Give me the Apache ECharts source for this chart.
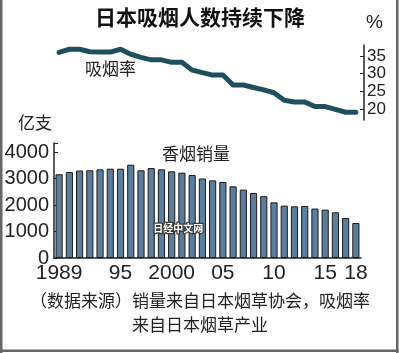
<!DOCTYPE html>
<html>
<head>
<meta charset="utf-8">
<script src="https://cdn.jsdelivr.net/npm/echarts@6/dist/echarts.min.js"></script>
<style>
  html, body { margin: 0; padding: 0; background: #fff; }
  #chart { width: 400px; height: 353px; }
</style>
</head>
<body>
<div id="chart"></div>
<script>
const years = ['1989', '1990', '1991', '1992', '1993', '1994', '1995', '1996', '1997', '1998',
  '1999', '2000', '2001', '2002', '2003', '2004', '2005', '2006', '2007', '2008',
  '2009', '2010', '2011', '2012', '2013', '2014', '2015', '2016', '2017', '2018']
// 吸烟率 (%)
const smokingRate = [36.0, 36.9, 36.9, 36.2, 36.1, 36.1, 36.9, 35.5, 34.6, 33.9,
  33.9, 33.2, 33.2, 31.0, 30.3, 29.6, 29.6, 26.8, 26.8, 26.1,
  25.4, 24.6, 22.5, 22.0, 22.0, 20.7, 20.7, 19.9, 19.1, 19.1]
// 香烟销量 (亿支)
const sales = [3160, 3245, 3300, 3310, 3345, 3370, 3370, 3520, 3310, 3395,
  3345, 3270, 3220, 3130, 3000, 2930, 2870, 2705, 2580, 2455,
  2330, 2100, 1975, 1950, 1965, 1865, 1825, 1725, 1510, 1320]
const xLabels = { '1989': '1989', '1995': '95', '2000': '2000', '2005': '05', '2010': '10', '2015': '15', '2018': '18' }
const rateTicks = [20, 25, 30, 35]

const chart = echarts.init(document.getElementById('chart'))
const narrow = '"Liberation Sans Narrow", "Liberation Sans", sans-serif'
const cjk = '"Noto Sans CJK SC", sans-serif'

chart.setOption({
  animation: false,
  backgroundColor: '#fff',
  grid: [
    { left: 54, right: 39, top: 45, height: 75 },
    { left: 54, right: 39, top: 143, height: 115 },
  ],
  xAxis: [
    {
      gridIndex: 0, type: 'category', data: years, show: false,
    },
    {
      gridIndex: 1, type: 'category', data: years,
      axisLine: { lineStyle: { color: '#222', width: 1.5 } },
      axisTick: { show: false },
      axisLabel: {
        interval: (i, v) => v in xLabels,
        formatter: (v) => xLabels[v] || '',
        color: '#222', fontFamily: narrow, fontSize: 21, margin: 5,
      },
    },
  ],
  yAxis: [
    {
      gridIndex: 0, type: 'value', position: 'right', offset: 3,
      min: 16.9, max: 38.1,
      splitLine: { show: false },
      axisLine: { show: true, lineStyle: { color: '#222', width: 1.5 } },
      axisTick: { show: true, inside: true, length: 4, customValues: rateTicks, lineStyle: { color: '#222' } },
      axisLabel: {
        customValues: rateTicks, hideOverlap: false, showMinLabel: true, showMaxLabel: true,
        color: '#222', fontFamily: '"Liberation Sans", sans-serif', fontSize: 17, margin: 3, lineHeight: 12,
      },
    },
    {
      gridIndex: 1, type: 'value', min: 0, max: 4340, interval: 1000,
      splitLine: { show: false },
      axisLine: { show: true, lineStyle: { color: '#222', width: 1.5 } },
      axisTick: { show: true, inside: true, length: 4, lineStyle: { color: '#222' } },
      axisLabel: {
        color: '#222', fontFamily: narrow, fontSize: 20, margin: 5,
        formatter: (v) => (v > 4000 ? '' : v),
      },
    },
  ],
  series: [
    {
      name: '吸烟率', type: 'line', xAxisIndex: 0, yAxisIndex: 0,
      data: smokingRate, symbol: 'none',
      lineStyle: { color: '#1f4f5f', width: 5, cap: 'round', join: 'round' },
    },
    {
      name: '香烟销量', type: 'bar', xAxisIndex: 1, yAxisIndex: 1,
      data: sales, barWidth: '70%',
      itemStyle: { color: '#5b7e9d', borderColor: '#1a1a1a', borderWidth: 1 },
    },
  ],
  graphic: [
    { type: 'text', left: 'center', top: 7, style: { text: '日本吸烟人数持续下降', font: 'bold 21px ' + cjk, fill: '#111' } },
    { type: 'text', left: 366, top: 13, style: { text: '%', font: '19px ' + narrow, fill: '#222' } },
    { type: 'text', left: 85, top: 60, style: { text: '吸烟率', font: '17px ' + cjk, fill: '#222' } },
    { type: 'text', left: 18, top: 114, style: { text: '亿支', font: '17px ' + cjk, fill: '#222' } },
    { type: 'text', left: 162, top: 145, style: { text: '香烟销量', font: '17px ' + cjk, fill: '#222' } },
    { type: 'text', left: 152, top: 222, z: 10, style: { text: '日经中文网', font: 'bold 10px ' + cjk, fill: '#fff', stroke: '#3a3a3a', lineWidth: 2.5, strokeFirst: true } },
    { type: 'text', left: 'center', top: 292, style: { text: '（数据来源）销量来自日本烟草协会，吸烟率', font: '17px ' + cjk, fill: '#222' } },
    { type: 'text', left: 'center', top: 316, style: { text: '来自日本烟草产业', font: '17px ' + cjk, fill: '#222' } },
    { type: 'rect', shape: { x: 0, y: 0, width: 2.5, height: 353 }, style: { fill: '#666' } },
    { type: 'rect', shape: { x: 396, y: 0, width: 2.5, height: 353 }, style: { fill: '#666' } },
    { type: 'rect', shape: { x: 0, y: 349.5, width: 398.5, height: 2.5 }, style: { fill: '#666' } },
  ],
})
</script>
</body>
</html>
